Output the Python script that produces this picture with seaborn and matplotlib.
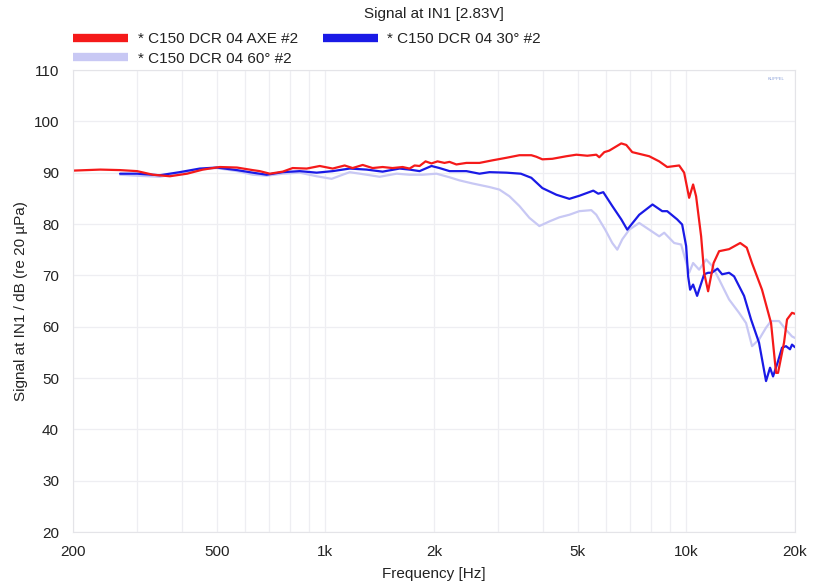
import numpy as np
import pandas as pd
import matplotlib
matplotlib.use("Agg")
import matplotlib.pyplot as plt
from matplotlib.lines import Line2D
from matplotlib.ticker import FixedLocator, NullFormatter, MultipleLocator
import seaborn as sns

# ---------------- data ----------------
axe_freq = [200, 238, 270, 301, 333, 371, 414, 458, 510, 569, 629, 658, 702, 762, 812, 888,
            965, 1048, 1131, 1190, 1269, 1352, 1441, 1535, 1637, 1711, 1767, 1824, 1895, 1968,
            2045, 2138, 2208, 2307, 2459, 2673, 2903, 3174, 3449, 3721, 3842, 3992, 4254, 4652,
            4959, 5317, 5631, 5740, 5926, 6118, 6604, 6817, 7082, 7892, 8411, 8851, 9553, 9862,
            10181, 10442, 10643, 10990, 11202, 11490, 11900, 12325, 13134, 14100, 14700, 15200,
            16206, 17167, 17722, 17948, 18648, 19008, 19621, 20000]
axe_db = [90.4, 90.6, 90.5, 90.3, 89.6, 89.3, 89.8, 90.6, 91.1, 91.0, 90.5, 90.3, 89.8, 90.2, 90.9, 90.8,
          91.3, 90.8, 91.4, 90.9, 91.5, 90.9, 91.1, 90.9, 91.1, 90.8, 91.4, 91.3, 92.2, 91.8,
          92.2, 91.9, 92.1, 91.6, 91.9, 91.9, 92.4, 92.9, 93.4, 93.4, 93.1, 92.6, 92.7, 93.2,
          93.5, 93.3, 93.5, 93.0, 94.0, 94.3, 95.7, 95.4, 94.0, 93.2, 92.2, 91.1, 91.4, 90.0,
          85.1, 87.7, 85.4, 77.6, 70.5, 66.9, 72.4, 74.7, 75.1, 76.3, 75.4, 72.4,
          67.2, 60.7, 51.0, 51.0, 56.9, 61.4, 62.7, 62.5]

d30_freq = [270, 301, 348, 395, 449, 500, 569, 629, 688, 762, 849, 946, 1048, 1168, 1301, 1441,
            1606, 1711, 1824, 1968, 2071, 2208, 2459, 2673, 2849, 3174, 3480, 3721, 3992, 4365,
            4742, 5053, 5524, 5703, 5888, 6236, 6604, 6860, 7405, 8060, 8574, 8851, 9432, 9737,
            9988, 10116, 10245, 10442, 10712, 11202, 11490, 11760, 12200, 12563, 13134, 13561,
            14452, 15110, 15898, 16626, 17057, 17386, 17900, 18410, 18887, 19374, 19621, 20000]
d30_db = [89.8, 89.8, 89.5, 90.1, 90.8, 91.0, 90.5, 90.0, 89.6, 90.1, 90.3, 90.0, 90.3, 90.8, 90.6, 90.2,
          90.8, 90.6, 90.3, 91.3, 90.9, 90.3, 90.3, 89.8, 90.1, 90.0, 89.8, 89.0, 87.0, 85.7,
          84.9, 85.5, 86.5, 85.9, 86.2, 83.5, 80.9, 78.9, 81.8, 83.8, 82.5, 82.5, 80.9, 79.9,
          75.7, 69.8, 67.2, 68.2, 66.0, 70.2, 70.5, 70.5, 71.3, 70.2, 70.5, 69.8,
          66.0, 61.4, 56.9, 49.4, 52.0, 50.3, 53.0, 55.9, 56.2, 55.6, 56.5, 56.0]

d60_freq = [270, 301, 348, 395, 449, 500, 569, 629, 688, 762, 849, 946, 1041, 1168, 1301, 1414,
            1575, 1711, 1859, 2032, 2208, 2352, 2556, 2849, 3036, 3236, 3449, 3675, 3916, 4174,
            4449, 4742, 5053, 5455, 5631, 5960, 6236, 6438, 6645, 6948, 7405, 7892, 8411, 8684,
            9254, 9675, 10000, 10181, 10442, 10850, 11348, 11800, 12325, 13134, 13998, 14638,
            15207, 15898, 16626, 17167, 18062, 18887, 19621, 20000]
d60_db = [89.6, 89.4, 89.2, 89.9, 90.6, 90.9, 90.3, 89.6, 89.4, 89.8, 90.0, 89.3, 88.8, 90.1, 89.6, 89.2,
          89.8, 89.6, 89.6, 89.8, 89.1, 88.5, 87.9, 87.2, 86.7, 85.4, 83.5, 81.2, 79.6, 80.5,
          81.3, 81.8, 82.5, 82.7, 81.8, 78.9, 76.3, 75.0, 77.0, 78.9, 80.2, 78.9, 77.6, 78.3,
          76.3, 76.0, 72.4, 70.5, 72.4, 71.1, 73.1, 71.8, 69.2, 65.3, 62.7, 60.7,
          56.2, 57.5, 59.8, 61.1, 61.1, 59.4, 58.1, 57.8]

series_names = ["* C150 DCR 04 AXE #2", "* C150 DCR 04 30° #2", "* C150 DCR 04 60° #2"]
series_colors = ["#f51a1a", "#1a1ae6", "#c8c8f4"]

title = "Signal at IN1 [2.83V]"
xlabel = "Frequency [Hz]"
ylabel = "Signal at IN1 / dB (re 20 µPa)"
xtick_vals = [200, 500, 1000, 2000, 5000, 10000, 20000]
xtick_labels = ["200", "500", "1k", "2k", "5k", "10k", "20k"]
ytick_vals = [20, 30, 40, 50, 60, 70, 80, 90, 100, 110]

# ---------------- plotting ----------------
sns.set_style("white")
plt.rcParams["font.family"] = ["Liberation Sans", "DejaVu Sans"]
FS = 11

df = pd.concat([
    pd.DataFrame({"f": axe_freq, "db": axe_db, "s": series_names[0]}),
    pd.DataFrame({"f": d30_freq, "db": d30_db, "s": series_names[1]}),
    pd.DataFrame({"f": d60_freq, "db": d60_db, "s": series_names[2]}),
], ignore_index=True)

fig = plt.figure(figsize=(8.2, 5.83), dpi=100)
ax = fig.add_axes([73 / 820, 1 - 532 / 583, (795 - 73) / 820, (532 - 70) / 583])

draw_order = [2, 1, 0]
for i in draw_order:
    sub = df[df["s"] == series_names[i]]
    sns.lineplot(data=sub, x="f", y="db", ax=ax, color=series_colors[i], lw=1.6,
                 sort=False, estimator=None, legend=False)

ax.set_xscale("log")
ax.set_xlim(200, 20000)
ax.set_ylim(20, 110)

minor_grid = [v * m for m in (100, 1000, 10000) for v in range(2, 10)] + [1000, 10000, 20000]
ax.xaxis.set_major_locator(FixedLocator(xtick_vals))
ax.set_xticklabels(xtick_labels)
ax.xaxis.set_minor_locator(FixedLocator(sorted(set(minor_grid))))
ax.xaxis.set_minor_formatter(NullFormatter())
ax.set_yticks(ytick_vals)
ax.yaxis.set_minor_locator(MultipleLocator(2))

ax.grid(True, which="minor", axis="x", color="#eeeef2", lw=0.9)
ax.grid(True, which="major", axis="x", color="#eeeef2", lw=0.9)
ax.grid(True, which="major", axis="y", color="#eeeef2", lw=0.9)
ax.set_axisbelow(True)

for sp in ax.spines.values():
    sp.set_color("#e4e4e8")
    sp.set_linewidth(0.8)

ax.tick_params(axis="y", which="major", direction="out", length=7, color="#d8d8dc",
               labelsize=FS, pad=3, labelcolor="#222222")
ax.tick_params(axis="y", which="minor", direction="in", length=7, color="#e4e4e8")
ax.tick_params(axis="x", which="both", length=0, labelsize=FS, pad=9, labelcolor="#222222")

ax.set_xlabel(xlabel, fontsize=FS, color="#222222", labelpad=6)
ax.set_ylabel(ylabel, fontsize=FS, color="#222222", labelpad=4)

fig.text((73 + 795) / 2 / 820, 1 - 14 / 583, title, ha="center", va="center",
         fontsize=FS, color="#222222")

handles = [Line2D([], [], color=series_colors[0], lw=6, solid_capstyle="butt"),
           Line2D([], [], color=series_colors[2], lw=6, solid_capstyle="butt"),
           Line2D([], [], color=series_colors[1], lw=6, solid_capstyle="butt")]
labels = [series_names[0], series_names[2], series_names[1]]
fig.legend(handles, labels, loc="upper left", bbox_to_anchor=(73 / 820, 1 - 32 / 583),
           ncol=2, frameon=False, fontsize=FS, handlelength=3.6, handletextpad=0.65,
           columnspacing=1.6, labelspacing=0.38, borderpad=0, borderaxespad=0,
           labelcolor="#222222")

ax.text(0.985, 0.985, "KLIPPEL", transform=ax.transAxes, ha="right", va="top",
        fontsize=3, color="#8aa0d8")

fig.savefig("out.png", dpi=100)
